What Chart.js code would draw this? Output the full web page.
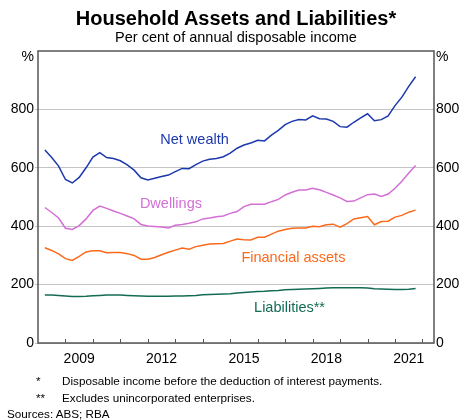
<!DOCTYPE html>
<html>
<head>
    <title>Household Assets and Liabilities</title>
    <script src="https://cdn.jsdelivr.net/npm/chart.js"></script>
    <style>
        body { margin: 0; font-family: 'Liberation Sans', Arial, sans-serif; color: #000; }
        #wrap { position: relative; width: 467px; height: 420px; overflow: hidden; background: #fff; }
        #wrap canvas { position: absolute; left: 0; top: 0; }
        .t { position: absolute; white-space: nowrap; }
    </style>
</head>
<body>
<div id="wrap">
    <canvas id="chart" width="467" height="420"></canvas>
    <div class="t" style="left:0; width:472px; text-align:center; top:8px; font-size:20px; line-height:20px; font-weight:bold;">Household Assets and Liabilities*</div>
    <div class="t" style="left:0; width:472px; text-align:center; top:30px; font-size:14.5px; line-height:14.5px;">Per cent of annual disposable income</div>
    <div class="t" style="right:433px; top:49px; font-size:14px; line-height:14px;">%</div>
    <div class="t" style="left:436px; top:49px; font-size:14px; line-height:14px;">%</div>
    <div class="t" style="left:36px; top:375px; font-size:11.7px; line-height:11.7px;">*</div>
    <div class="t" style="left:62px; top:375px; font-size:11.7px; line-height:11.7px;">Disposable income before the deduction of interest payments.</div>
    <div class="t" style="left:36px; top:392px; font-size:11.7px; line-height:11.7px;">**</div>
    <div class="t" style="left:62px; top:392px; font-size:11.7px; line-height:11.7px;">Excludes unincorporated enterprises.</div>
    <div class="t" style="left:7px; top:408px; font-size:11.7px; line-height:11.7px;">Sources: ABS; RBA</div>
</div>

<script>
    // quarterly, Mar 2008 to Sep 2021, per cent of annual disposable income
    var netWealth = [661, 635, 606, 560, 548, 567, 600, 637, 652, 635, 632, 624, 610, 592, 566, 558,
        564, 570, 575, 587, 598, 597, 611, 623, 629, 632, 638, 650, 667, 678, 685, 694,
        692, 712, 728, 748, 759, 765, 764, 778, 768, 767, 759, 741, 739, 756, 771, 785,
        761, 765, 778, 813, 842, 879, 912];
    var dwellings = [464, 447, 428, 393, 389, 402, 425, 454, 469, 461, 452, 444, 435, 425, 406, 401,
        399, 397, 394, 403, 406, 410, 415, 425, 428, 432, 435, 444, 450, 467, 475, 475,
        475, 484, 492, 507, 516, 524, 524, 530, 525, 516, 507, 497, 485, 486, 497, 508,
        510, 502, 510, 530, 554, 582, 608];
    var financialAssets = [326, 317, 305, 289, 283, 297, 312, 316, 316, 309, 310, 310, 306, 300, 287, 287,
        293, 302, 311, 318, 325, 321, 330, 335, 339, 340, 341, 349, 356, 354, 353, 362,
        362, 373, 383, 389, 393, 394, 394, 400, 398, 405, 407, 397, 409, 425, 429, 433,
        405, 416, 417, 431, 437, 448, 455];
    var liabilities = [164, 164, 163, 161, 159, 159, 160, 162, 163, 164, 164, 164, 163, 162, 161, 160,
        160, 160, 160, 161, 161, 162, 163, 165, 166, 167, 168, 169, 171, 173, 175, 176,
        177, 179, 180, 182, 183, 184, 185, 186, 187, 188, 189, 189, 189, 189, 189, 188,
        186, 185, 184, 183, 183, 184, 187];

    var yearLabels = [2009, 2012, 2015, 2018, 2021];
    var yTicks = [0, 200, 400, 600, 800];

    // x position of each quarter (end of quarter, in years)
    var quarters = [];
    for (var i = 0; i < netWealth.length; i++) {
        quarters.push(2008.25 + i * 0.25);
    }

    function points(values) {
        return values.map(function(v, i) { return {x: quarters[i], y: v}; });
    }

    var seriesLabels = [
        {text: 'Net wealth', x: 2013.7, y: 695, color: '#1c38ad'},
        {text: 'Dwellings', x: 2012.84, y: 476, color: '#d46fd6'},
        {text: 'Financial assets', x: 2017.3, y: 290, color: '#fb6a1c'},
        {text: 'Liabilities**', x: 2017.16, y: 120, color: '#146b54'}
    ];

    var fontFamily = "'Liberation Sans', Arial, sans-serif";

    var framePlugin = {
        id: 'frame',
        afterDraw: function(chart) {
            var ctx = chart.ctx, a = chart.chartArea, xs = chart.scales.x;
            ctx.save();
            ctx.strokeStyle = '#555';
            ctx.lineWidth = 1.5;
            ctx.strokeRect(a.left, a.top, a.right - a.left, a.bottom - a.top);
            ctx.lineWidth = 1;
            ctx.beginPath();
            for (var yr = 2009; yr <= 2022; yr++) {
                var px = Math.round(xs.getPixelForValue(yr)) + 0.5;
                ctx.moveTo(px, a.bottom);
                ctx.lineTo(px, a.bottom - 4);
            }
            ctx.stroke();
            ctx.font = '14.5px ' + fontFamily;
            ctx.textAlign = 'center';
            ctx.textBaseline = 'middle';
            seriesLabels.forEach(function(l) {
                ctx.fillStyle = l.color;
                ctx.fillText(l.text, xs.getPixelForValue(l.x), chart.scales.y.getPixelForValue(l.y));
            });
            ctx.restore();
        }
    };

    var ctx = document.getElementById('chart').getContext('2d');
    var chart = new Chart(ctx, {
        type: 'line',
        data: {
            datasets: [{
                label: 'Net wealth',
                data: points(netWealth),
                borderColor: '#1c38ad',
            },{
                label: 'Dwellings',
                data: points(dwellings),
                borderColor: '#d46fd6',
            },{
                label: 'Financial assets',
                data: points(financialAssets),
                borderColor: '#fb6a1c',
            },{
                label: 'Liabilities',
                data: points(liabilities),
                borderColor: '#146b54',
            }]
        },
        options: {
            responsive: false,
            animation: false,
            layout: { padding: { top: 51, left: 0, right: 0, bottom: 0 } },
            elements: {
                line: { borderWidth: 1.5, tension: 0, fill: false },
                point: { radius: 0 }
            },
            plugins: {
                legend: { display: false },
                tooltip: { enabled: false }
            },
            scales: {
                x: {
                    type: 'linear',
                    min: 2008,
                    max: 2022.42,
                    grid: { display: false, drawTicks: false },
                    border: { display: false },
                    afterBuildTicks: function(s) {
                        s.ticks = yearLabels.map(function(y) { return {value: y + 0.5}; });
                    },
                    ticks: {
                        callback: function(v) { return String(Math.floor(v)); },
                        font: { family: fontFamily, size: 14 },
                        color: '#000',
                        padding: 8,
                        maxRotation: 0,
                        autoSkip: false
                    },
                    afterFit: function(s) { s.height = 77; }
                },
                y: {
                    position: 'left',
                    min: 0,
                    max: 1000,
                    afterBuildTicks: function(s) {
                        s.ticks = yTicks.map(function(v) { return {value: v}; });
                    },
                    grid: { color: '#c4c4c4', tickColor: '#c4c4c4', tickLength: 3 },
                    border: { display: false },
                    ticks: { font: { family: fontFamily, size: 14 }, color: '#000', padding: 1 },
                    afterFit: function(s) { s.width = 38; }
                },
                y2: {
                    position: 'right',
                    min: 0,
                    max: 1000,
                    afterBuildTicks: function(s) {
                        s.ticks = yTicks.map(function(v) { return {value: v}; });
                    },
                    grid: { display: false, drawTicks: false },
                    border: { display: false },
                    ticks: { font: { family: fontFamily, size: 14 }, color: '#000', padding: 2 },
                    afterFit: function(s) { s.width = 33; }
                }
            }
        },
        plugins: [framePlugin]
    });
</script>
</body>
</html>
